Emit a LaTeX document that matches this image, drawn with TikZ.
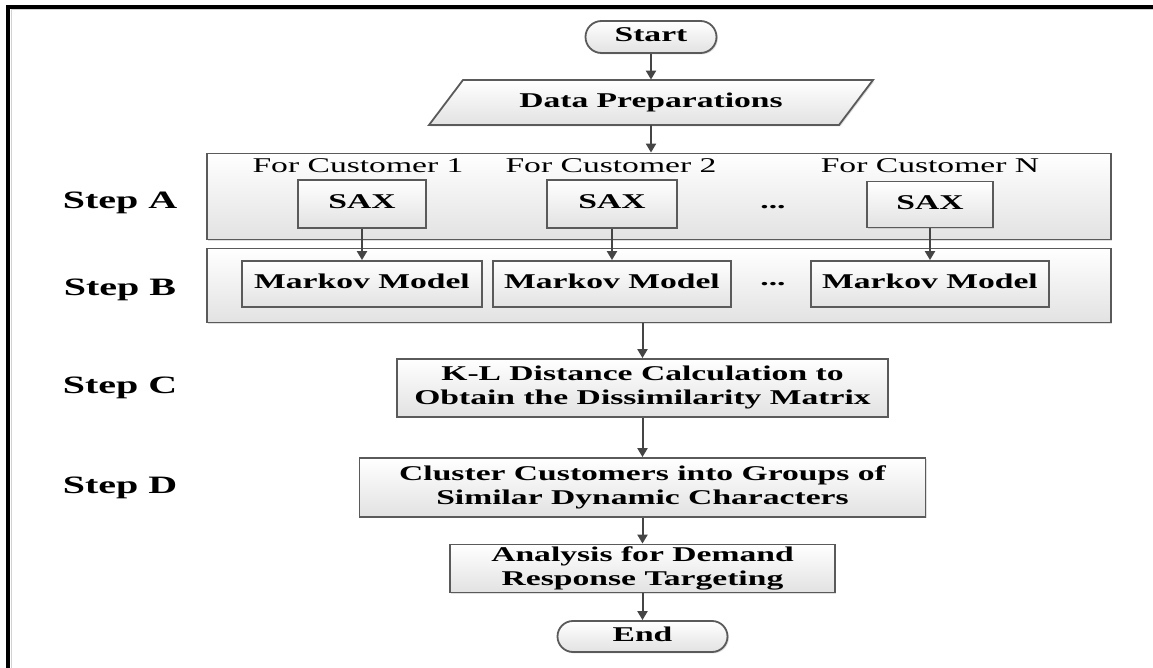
\documentclass[tikz,border=0pt]{standalone}
\usepackage{fontspec}
\setmainfont{Liberation Serif}
\usepackage{graphicx}
\usetikzlibrary{arrows.meta,shadows,shapes.misc}

\definecolor{boxedge}{HTML}{5A5A5A}
\definecolor{boxfill}{HTML}{E2E2E2}
\definecolor{arrowc}{HTML}{454545}

% text is set wide, as in the figure
\newcommand{\wtext}[1]{\scalebox{1.6}[1]{\begin{tabular}{@{}c@{}}#1\end{tabular}}}

\begin{document}
\begin{tikzpicture}[x=0.5pt,y=-0.5pt,
  shade box/.style={draw=boxedge, line width=0.9pt, top color=white, bottom color=boxfill},
  box/.style={shade box, rectangle, inner sep=0pt,
    font=\fontsize{10.5}{12}\selectfont\bfseries,
    drop shadow={shadow xshift=0.7pt, shadow yshift=-0.7pt, opacity=0.25}},
  frame/.style={box},
  term/.style={box, rounded rectangle},
  plain/.style={inner sep=0pt, font=\fontsize{10.5}{12}\selectfont\bfseries},
  lbl/.style={inner sep=0pt, font=\fontsize{10.5}{12}\selectfont},
  steplbl/.style={inner sep=0pt, font=\fontsize{12.5}{14}\selectfont\bfseries},
  arr/.style={draw=arrowc, line width=1pt, -{Triangle[length=4.5pt,width=5pt]}}
]
\useasboundingbox (0,0) rectangle (1153,668);

% page frame
\draw[gray!35, line width=0.5pt] (11,668) -- (11,10) -- (1153,10);
\draw[black, line width=2pt] (8,668) -- (8,7) -- (1153,7);

% start and data preparation
\node[term, minimum width=65.5pt, minimum height=16pt] (start) at (651,37) {\wtext{Start}};
\path[shade box, drop shadow={shadow xshift=0.7pt, shadow yshift=-0.7pt, opacity=0.25}]
  (429,125) -- (463,80) -- (873,80) -- (839,125) -- cycle;
\node[plain, minimum width=222pt, minimum height=22.5pt] (prep) at (651,102.5) {\wtext{Data Preparations}};

% step containers
\node[frame, minimum width=452pt, minimum height=43pt] (stepA) at (659,196.5) {};
\node[frame, minimum width=452pt, minimum height=37pt] (stepB) at (659,285.5) {};

% step A: SAX per customer
\node[lbl] (cust1) at (358,168) {\wtext{For Customer 1}};
\node[lbl] (cust2) at (611,168) {\wtext{For Customer 2}};
\node[lbl] (custN) at (930,168) {\wtext{For Customer N}};
\node[box, minimum width=64pt, minimum height=24pt] (sax1) at (362,204) {\wtext{SAX}};
\node[box, minimum width=65pt, minimum height=24pt] (sax2) at (612,204) {\wtext{SAX}};
\node[box, minimum width=63pt, minimum height=23pt] (saxN) at (930,204.5) {\wtext{SAX}};
\node[plain] (dotsA) at (773,204) {\wtext{...}};

% step B: Markov models
\node[box, minimum width=120pt, minimum height=23pt] (mm1) at (362,284) {\wtext{Markov Model}};
\node[box, minimum width=119pt, minimum height=23pt] (mm2) at (612,284) {\wtext{Markov Model}};
\node[box, minimum width=119pt, minimum height=23pt] (mmN) at (930,284) {\wtext{Markov Model}};
\node[plain] (dotsB) at (773,281) {\wtext{...}};

% steps C and D, then the end
\node[box, minimum width=245.5pt, minimum height=29pt] (kl) at (642.5,388)
  {\wtext{K-L Distance Calculation to\\Obtain the Dissimilarity Matrix}};
\node[box, minimum width=283pt, minimum height=29.5pt] (clu) at (642.5,487.5)
  {\wtext{Cluster Customers into Groups of\\Similar Dynamic Characters}};
\node[box, minimum width=192.5pt, minimum height=23.5pt] (ana) at (642.5,568.5)
  {\wtext{Analysis for Demand\\Response Targeting}};
\node[term, minimum width=85pt, minimum height=15.5pt] (end) at (642.5,636.5) {\wtext{End}};

% step labels
\node[steplbl] (labA) at (120,203) {\wtext{Step A}};
\node[steplbl] (labB) at (120,290) {\wtext{Step B}};
\node[steplbl] (labC) at (120,388) {\wtext{Step C}};
\node[steplbl] (labD) at (120,488) {\wtext{Step D}};

% connectors
\draw[arr] (start.south) -- (prep.north);
\draw[arr] (prep.south) -- (prep.south |- stepA.north);
\draw[arr] (sax1.south) -- (mm1.north);
\draw[arr] (sax2.south) -- (mm2.north);
\draw[arr] (saxN.south) -- (mmN.north);
\draw[arr] (kl.north |- stepB.south) -- (kl.north);
\draw[arr] (kl.south) -- (clu.north);
\draw[arr] (clu.south) -- (ana.north);
\draw[arr] (ana.south) -- (end.north);
\end{tikzpicture}
\end{document}
